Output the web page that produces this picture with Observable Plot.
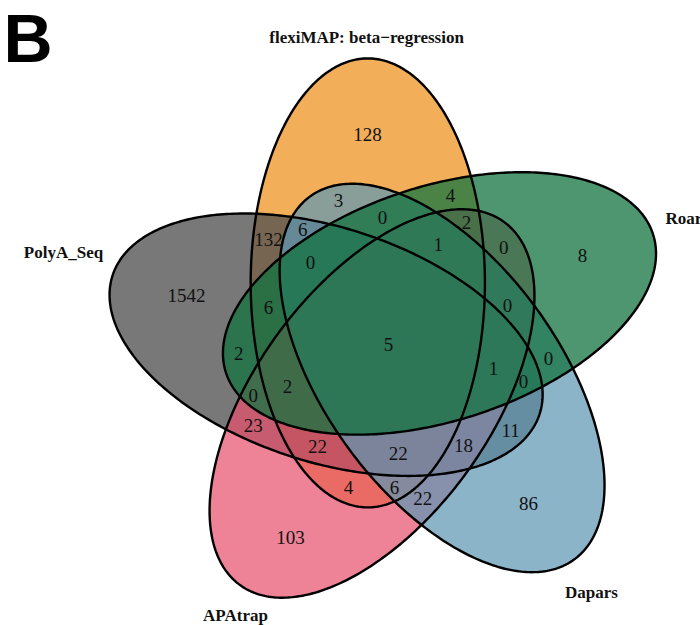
<!DOCTYPE html>
<html>
<head>
<meta charset="utf-8">
<script src="https://cdn.jsdelivr.net/npm/d3@7"></script>
<script src="https://cdn.jsdelivr.net/npm/@observablehq/plot@0.6"></script>
<style>
  body { margin: 0; background: #fff; }
  #chart svg { display: block; }
</style>
</head>
<body>
<div id="chart"></div>
<script>
// Five-set Venn diagram: overlap of APA events called by five tools.

// Set names, in the order they go round the diagram (clockwise from the top).
const setNames = ["flexiMAP: beta−regression", "Roar", "Dapars", "APAtrap", "PolyA_Seq"];
const setCodes = ["F", "R", "D", "A", "P"];

// Region membership (set codes) and the count in each region.
const regionSets = [
  "F", "R", "D", "A", "P",
  "FD", "FR", "FP", "RA", "RP", "RD", "AP", "DP", "FA", "DA",
  "FDP", "FRD", "FRA", "FRP", "RDA", "RAP", "RDP", "FAP", "DAP", "FDA",
  "FRDA", "FRDP", "RDAP", "FRAP", "FDAP",
  "FRDAP"
];
const regionCounts = [
  128, 8, 86, 103, 1542,
  3, 4, 132, 0, 2, 0, 23, 11, 4, 22,
  6, 0, 2, 6, 0, 0, 0, 22, 18, 6,
  1, 0, 1, 2, 22,
  5
];

// ---- Layout (unit-square coordinates, as in the classic quintuple Venn) ----
const centerDist = 0.13;   // offset of each ellipse centre from the middle
const semiMajor = 0.46;
const semiMinor = 0.24;
const offsetAngle0 = 110;  // degrees, first set's centre direction
const axisAngle0 = 90;     // degrees, first set's major axis
const step = -72;          // next set, clockwise

// label anchor of each region, same order as regionSets
const regionAnchor = [
  [0.455, 0.926], [0.8955, 0.678], [0.785, 0.170], [0.297, 0.100], [0.084, 0.596],
  [0.3955, 0.791], [0.625, 0.801], [0.252, 0.711], [0.734, 0.693], [0.191, 0.4775],
  [0.826, 0.467], [0.221, 0.330], [0.748, 0.318], [0.416, 0.203], [0.568, 0.180],
  [0.322, 0.7316], [0.4857, 0.756], [0.658, 0.746], [0.252, 0.570], [0.742, 0.576],
  [0.221, 0.391], [0.7746, 0.420], [0.3525, 0.287], [0.6516, 0.289], [0.510, 0.203],
  [0.600, 0.699], [0.338, 0.664], [0.713, 0.445], [0.291, 0.408], [0.518, 0.2725],
  [0.498, 0.496]
];

// category label anchors and text anchors
const setLabelAnchor = [[0.453, 1.125], [1.0656, 0.754], [0.914, -0.0123], [0.1844, -0.059], [-0.168, 0.684]];
const setLabelAlign = ["middle", "start", "middle", "middle", "middle"];

// fills, per set
const setFill = ["#F2AE58", "#137340", "#5F97B3", "#E74F6B", "#505050"];
const setFillOpacity = [1, 0.75, 0.72, 0.71, 0.77];
const drawOrder = [0, 4, 3, 2, 1];

const rad = Math.PI / 180;
function ellipsePoints(i) {
  const phi = (offsetAngle0 + step * i) * rad;
  const psi = (axisAngle0 + step * i) * rad;
  const cx = 0.5 + centerDist * Math.cos(phi);
  const cy = 0.5 + centerDist * Math.sin(phi);
  const pts = [];
  const n = 360;
  for (let k = 0; k < n; k++) {
    const t = (k / n) * 2 * Math.PI;
    const u = semiMajor * Math.cos(t);
    const v = semiMinor * Math.sin(t);
    pts.push({
      set: setCodes[i],
      x: cx + u * Math.cos(psi) - v * Math.sin(psi),
      y: cy + u * Math.sin(psi) + v * Math.cos(psi)
    });
  }
  return pts;
}

const outlines = setCodes.flatMap((_, i) => ellipsePoints(i));

const regions = regionSets.map((s, i) => ({
  sets: s,
  count: regionCounts[i],
  x: regionAnchor[i][0],
  y: regionAnchor[i][1]
}));

const setLabels = setNames.map((name, i) => ({
  name,
  x: setLabelAnchor[i][0],
  y: setLabelAnchor[i][1],
  align: setLabelAlign[i]
}));

const fillMarks = drawOrder.map(i =>
  Plot.line(ellipsePoints(i), {
    x: "x", y: "y",
    curve: "linear-closed",
    stroke: "none",
    fill: setFill[i],
    fillOpacity: setFillOpacity[i]
  })
);

const chart = Plot.plot({
  width: 700,
  height: 625,
  margin: 0,
  style: { background: "#fff", overflow: "hidden" },
  x: { domain: [-0.29713, 1.13730], axis: null },
  y: { domain: [-0.07992, 1.20082], axis: null },
  marks: [
    ...fillMarks,
    Plot.line(outlines, {
      x: "x", y: "y", z: "set",
      curve: "linear-closed",
      stroke: "#000",
      strokeWidth: 2.4,
      fill: "none"
    }),
    Plot.text(regions, {
      x: "x", y: "y", text: d => String(d.count),
      fontSize: 19, fontFamily: "Liberation Serif, Times New Roman, serif",
      fill: "#111"
    }),
    ...["middle", "start"].map(al =>
      Plot.text(setLabels.filter(d => d.align === al), {
        x: "x", y: "y", text: "name",
        textAnchor: al,
        fontSize: 17, fontWeight: "bold",
        fontFamily: "Liberation Serif, Times New Roman, serif",
        fill: "#111"
      })
    ),
    Plot.text(["B"], {
      frameAnchor: "top-left", dx: 3, dy: 13,
      lineAnchor: "top",
      text: d => d,
      fontSize: 68, fontWeight: "bold",
      fontFamily: "Liberation Sans, Arial, sans-serif",
      fill: "#000"
    })
  ]
});

document.getElementById("chart").append(chart);
</script>
</body>
</html>
